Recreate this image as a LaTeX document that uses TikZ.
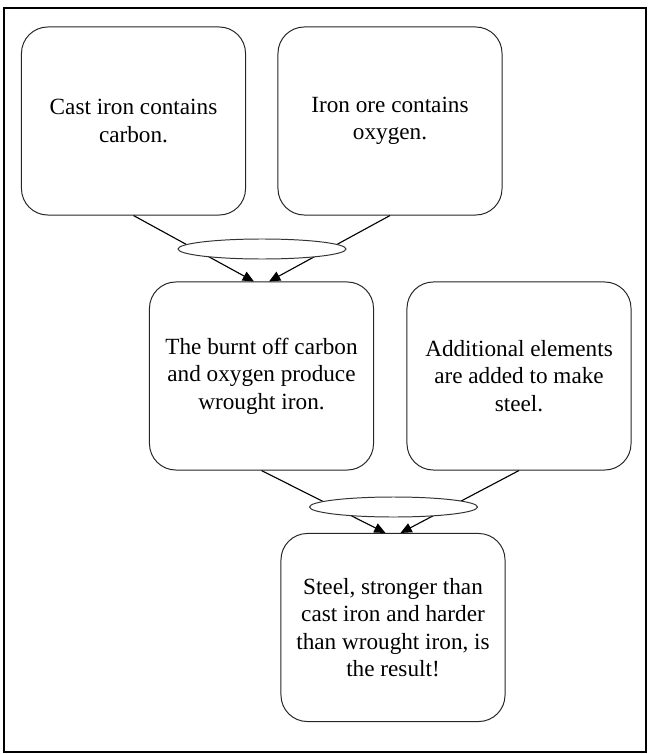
\documentclass[tikz,border=0pt]{standalone}
\usepackage{fontspec}
\setmainfont{Liberation Serif}
\usepackage{tikz}
\usetikzlibrary{shapes,arrows.meta,calc}

\begin{document}
\begin{tikzpicture}[x=0.025cm,y=-0.025cm,
  claim/.style={draw=black!85, line width=0.7pt, rounded corners=0.66cm, fill=white,
    minimum width=5.6cm, minimum height=4.7cm, align=center, inner sep=2pt,
    font=\fontsize{16.5}{19.5}\selectfont},
  joint/.style={draw=black!80, line width=0.7pt, ellipse, fill=white, inner sep=0pt,
    minimum width=4.2cm, minimum height=0.5cm},
  link/.style={line width=0.8pt, -{Triangle[width=7pt,length=8pt]}}]
\useasboundingbox (0,0) rectangle (648,754);
\draw[line width=2pt] (4,8) rectangle (646,752);
% claims
\node[claim] (cast) at (133.5,121) {Cast iron contains\\carbon.};
\node[claim] (ore) at (390,121) {Iron ore contains\\oxygen.};
\node[claim] (wrought) at (261.5,376) {The burnt off carbon\\and oxygen produce\\wrought iron.};
\node[claim] (extra) at (519,376) {Additional elements\\are added to make\\steel.};
\node[claim] (steel) at (393,627.5) {Steel, stronger than\\cast iron and harder\\than wrought iron, is\\the result!};
% reasons
\draw[link] (cast.south) -- ([xshift=-7.5*0.025cm]wrought.north);
\draw[link] (ore.south) -- ([xshift=7.5*0.025cm]wrought.north);
\draw[link] (wrought.south) -- ([xshift=-7.5*0.025cm]steel.north);
\draw[link] (extra.south) -- ([xshift=7.5*0.025cm]steel.north);
\node[joint] (j1) at (262,249) {};
\node[joint] (j2) at (393.5,507) {};
\end{tikzpicture}
\end{document}
